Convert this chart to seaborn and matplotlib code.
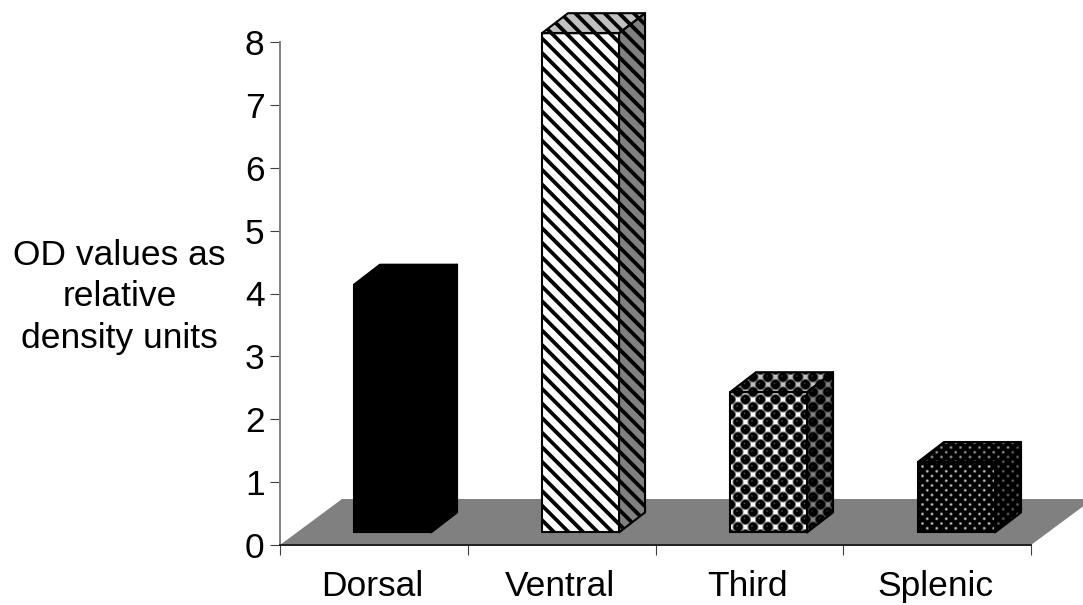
import numpy as np
import pandas as pd
import matplotlib
matplotlib.use('Agg')
import matplotlib.pyplot as plt
import seaborn as sns
from matplotlib.patches import Polygon

categories = ['Dorsal', 'Ventral', 'Third', 'Splenic']
values = [3.94, 7.94, 2.23, 1.12]
y_ticks = [0, 1, 2, 3, 4, 5, 6, 7, 8]
y_label = 'OD values as\nrelative\ndensity units'
patterns = ['solid', 'stripes', 'spheres', 'dots']

W, H = 1083, 605
DEPTH_X, DEPTH_Y = 26, 20      # bar depth in pixels
FLOOR_X, FLOOR_Y = 62, 46      # floor depth in pixels
BASE = 0.2                     # bars stand a little in front of the axis
FONT = 25.5

sns.set_theme(style='white')
plt.rcParams['font.family'] = ['Liberation Sans', 'DejaVu Sans']


# textures are screen aligned, the side and top faces only get darker
def lattice_dist(xx, yy, p):
    a = np.hypot((xx + p / 2) % p - p / 2, (yy + p / 2) % p - p / 2)
    b = np.hypot(xx % p - p / 2, yy % p - p / 2)
    return np.minimum(a, b)


def make_texture(kind):
    yy, xx = np.mgrid[0:H, 0:W] + 0.5
    if kind == 'stripes':
        p = 14.6
        d = np.abs((xx - yy) % p - p / 2) / np.sqrt(2)
        return np.clip(d - 1.9 + 0.5, 0, 1)
    if kind == 'spheres':
        p = 15.0
        d = lattice_dist(xx - 3, yy - 2, p)
        tex = 1 - 0.55 * np.clip(6.0 - d, 0, 1)
        tex = tex * np.clip(d - 4.0, 0, 1)
        hx = lattice_dist(xx - 2, yy - 1, p)
        return np.maximum(tex, 0.35 * np.clip(1.2 - hx, 0, 1))
    if kind == 'dots':
        p = 9.5
        d = lattice_dist(xx - 1, yy - 1, p)
        return 0.75 * np.clip((2.0 - d) / 1.5, 0, 1)
    return np.zeros((H, W))


df = pd.DataFrame({'region': categories, 'od': values})

fig = plt.figure(figsize=(W / 100, H / 100), dpi=100, facecolor='white')
ax = fig.add_axes([280 / W, (H - 545) / H, 751 / W, 503 / H])
ax.patch.set_alpha(0)

sns.barplot(data=df, x='region', y='od', ax=ax, color='white', saturation=1,
            width=0.41, bottom=BASE, edgecolor='black', linewidth=1.4, zorder=3)

span = 188.0
ax.set_xlim((280 - 392.5) / span, (1031 - 392.5) / span)
ax.set_ylim(0, 8)
ax.set_yticks(y_ticks)
ax.tick_params(axis='y', length=7.5, width=0.8, color='#404040', pad=3.6, labelsize=FONT,
               left=True, labelcolor='black')

x0, x1 = ax.get_xlim()
edges = np.linspace(x0, x1, len(categories) + 1)
ax.set_xticks(edges)
ax.set_xticklabels([])
ax.set_xticks((edges[:-1] + edges[1:]) / 2 - 1.5 / span, minor=True)
ax.set_xticklabels(categories, minor=True)
ax.tick_params(axis='x', which='major', length=7.5, width=0.8, color='#404040', bottom=True)
ax.tick_params(axis='x', which='minor', length=0, pad=18, labelsize=FONT, labelcolor='black')

ax.set_xlabel('')
ax.set_ylabel(y_label, rotation=0, fontsize=FONT, ha='center', va='center',
              linespacing=1.33, color='black')
ax.yaxis.set_label_coords((119.5 - 280) / 751, (545 - 297) / 503)

sns.despine(ax=ax)
ax.spines['left'].set_color('#808080')
ax.spines['left'].set_linewidth(1.4)
ax.spines['bottom'].set_color('#202020')
ax.spines['bottom'].set_linewidth(1.4)


# everything that fakes the depth goes on a pixel canvas laid over the axes
def to_canvas(points):
    pts = ax.transData.transform(points)
    return np.column_stack([pts[:, 0], H - pts[:, 1]])


under = fig.add_axes([0, 0, 1, 1], zorder=-1)
under.set_xlim(0, W)
under.set_ylim(H, 0)
under.axis('off')
left_px, base_px = to_canvas([(x0, 0)])[0]
right_px = to_canvas([(x1, 0)])[0][0]
floor = [(left_px, base_px), (right_px, base_px),
         (right_px + FLOOR_X, base_px - FLOOR_Y), (left_px + FLOOR_X, base_px - FLOOR_Y)]
under.add_patch(Polygon(floor, closed=True, facecolor='#808080', edgecolor='none'))

canvas = fig.add_axes([0, 0, 1, 1], zorder=5)
canvas.set_xlim(0, W)
canvas.set_ylim(H, 0)
canvas.axis('off')
canvas.patch.set_alpha(0)

for bar, kind in zip(ax.patches, patterns):
    x, y, w, h = bar.get_x(), bar.get_y(), bar.get_width(), bar.get_height()
    (xl, yb), (xr, yt) = to_canvas([(x, y), (x + w, y + h)])
    front = [(xl, yb), (xr, yb), (xr, yt), (xl, yt)]
    side = [(xr, yb), (xr + DEPTH_X, yb - DEPTH_Y), (xr + DEPTH_X, yt - DEPTH_Y), (xr, yt)]
    top = [(xl, yt), (xr, yt), (xr + DEPTH_X, yt - DEPTH_Y), (xl + DEPTH_X, yt - DEPTH_Y)]
    tex = make_texture(kind)
    for face, shade in [(front, 1.0), (side, 0.5), (top, 0.75)]:
        poly = Polygon(face, closed=True, facecolor='none', edgecolor='black',
                       linewidth=1.5, joinstyle='round', transform=canvas.transData)
        im = canvas.imshow(tex * shade, cmap='gray', vmin=0, vmax=1, extent=(0, W, H, 0),
                           interpolation='nearest', aspect='auto', zorder=2)
        im.set_clip_path(poly)
        canvas.add_patch(poly)
        poly.set_zorder(3)

canvas.set_xlim(0, W)
canvas.set_ylim(H, 0)

fig.savefig('out.png', dpi=100)
